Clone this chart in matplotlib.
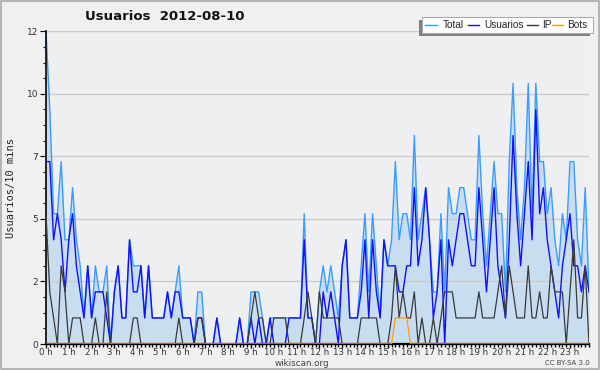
import matplotlib
matplotlib.use("Agg")
import matplotlib.pyplot as plt
from matplotlib.patches import Rectangle
from matplotlib.lines import Line2D

# 10-minute slots, 0..143
total = [12, 9, 5, 5, 7, 4, 4, 6, 4, 3, 1, 3,
         1, 3, 2, 2, 3, 0, 2, 3, 1, 1, 4, 3,
         3, 3, 1, 3, 1, 1, 1, 1, 2, 1, 2, 3,
         1, 1, 1, 0, 2, 2, 0, 0, 0, 1, 0, 0,
         0, 0, 0, 1, 0, 0, 2, 2, 2, 1, 0, 1,
         1, 1, 1, 1, 1, 1, 1, 1, 5, 1, 1, 0,
         2, 3, 2, 3, 2, 1, 3, 4, 1, 1, 1, 3,
         5, 2, 5, 3, 1, 4, 3, 4, 7, 4, 5, 5,
         4, 8, 4, 5, 6, 4, 2, 2, 5, 2, 6, 5,
         5, 6, 6, 5, 4, 4, 8, 5, 3, 5, 7, 5,
         5, 2, 7, 10, 6, 4, 6, 10, 5, 10, 7, 7,
         5, 6, 4, 3, 5, 4, 7, 7, 4, 3, 6, 2]

usuarios = [7, 7, 4, 5, 4, 2, 4, 5, 3, 2, 1, 3,
            1, 2, 2, 2, 1, 0, 2, 3, 1, 1, 4, 2,
            2, 3, 1, 3, 1, 1, 1, 1, 2, 1, 2, 2,
            1, 1, 1, 0, 1, 1, 0, 0, 0, 1, 0, 0,
            0, 0, 0, 1, 0, 0, 1, 0, 1, 0, 0, 1,
            0, 0, 0, 0, 1, 1, 1, 1, 4, 1, 1, 0,
            0, 2, 1, 2, 1, 0, 3, 4, 1, 1, 1, 2,
            4, 1, 4, 2, 1, 4, 3, 3, 3, 2, 2, 3,
            3, 6, 3, 4, 6, 4, 1, 2, 4, 0, 4, 3,
            4, 5, 5, 4, 3, 3, 6, 4, 2, 4, 6, 3,
            2, 1, 4, 8, 5, 3, 5, 7, 4, 9, 5, 6,
            4, 3, 2, 1, 3, 4, 5, 3, 3, 2, 3, 2]

ip = [5, 2, 1, 0, 3, 2, 0, 1, 1, 1, 0, 0,
      0, 1, 0, 0, 2, 0, 0, 0, 0, 0, 0, 1,
      1, 0, 0, 0, 0, 0, 0, 0, 0, 0, 0, 1,
      0, 0, 0, 0, 1, 1, 0, 0, 0, 0, 0, 0,
      0, 0, 0, 0, 0, 0, 1, 2, 1, 1, 0, 0,
      1, 1, 1, 1, 0, 0, 0, 0, 1, 2, 1, 0,
      2, 1, 1, 1, 1, 1, 0, 0, 0, 0, 0, 1,
      1, 1, 1, 1, 0, 0, 0, 1, 3, 1, 2, 1,
      1, 2, 0, 1, 0, 0, 1, 0, 1, 2, 2, 2,
      1, 1, 1, 1, 1, 1, 2, 1, 1, 1, 1, 2,
      3, 1, 3, 2, 1, 1, 1, 3, 1, 1, 2, 1,
      1, 3, 2, 2, 2, 0, 2, 4, 1, 1, 3, 0]

bots = [0] * 92 + [1, 1, 1, 1] + [0] * 48

hour_labels = ["0 h", "1 h", "2 h", "3 h", "4 h", "5 h", "6 h", "7 h",
               "8 h", "9 h", "10 h", "11 h", "12 h", "13 h", "14 h", "15 h",
               "16 h", "17 h", "18 h", "19 h", "20 h", "21 h", "22 h", "23 h"]
y_ticks = [0, 2.4, 4.8, 7.2, 9.6, 12]
y_labels = ["0", "2", "5", "7", "10", "12"]

x = list(range(len(total)))

fig = plt.figure(figsize=(6.0, 3.7), dpi=100, facecolor="#f0f0f0")
ax = fig.add_axes([46 / 600, 1 - 344 / 370, (589 - 46) / 600, (344 - 31.3) / 370])
ax.set_facecolor("#eeeff1")

ax.fill_between(x, 0, total, color="#c8ddf0", lw=0, zorder=1)
ax.plot(x, total, color="#3a9cff", lw=1.0, zorder=2)
ax.plot(x, usuarios, color="#1010ff", lw=1.0, zorder=3)
ax.plot(x, ip, color="#3a3a3a", lw=0.9, zorder=4)
ax.plot(x, bots, color="#ff9a10", lw=0.9, zorder=5)

ax.set_xlim(0, len(total) - 1)
ax.set_ylim(0, 12)

ax.set_xticks(list(range(0, 144, 6)))
ax.set_xticklabels(hour_labels)
ax.set_xticks(x, minor=True)
ax.set_yticks(y_ticks)
ax.set_yticklabels(y_labels)
ax.set_yticks([i * 0.6 for i in range(21)], minor=True)

ax.grid(axis="y", which="major", color="#cccccc", lw=1.0)
ax.set_axisbelow("line")

for s in ["top", "right"]:
    ax.spines[s].set_visible(False)
ax.spines["left"].set_linewidth(1.2)
ax.spines["bottom"].set_linewidth(1.6)

ax.tick_params(axis="x", which="major", length=3, width=1, pad=0,
               labelsize=6.2, labelcolor="#333333")
ax.tick_params(axis="x", which="minor", length=2.5, width=1)
ax.tick_params(axis="y", which="major", length=4, width=0.8, pad=1.5,
               labelsize=6.5, labelcolor="#333333")
ax.tick_params(axis="y", which="minor", length=2.5, width=0.8)

ax.set_ylabel("Usuarios/10 mins", family="DejaVu Sans Mono", fontsize=7.5,
              color="#222222", labelpad=8)

fig.text(85 / 600, 1 - 16 / 370, "Usuarios  2012-08-10", fontsize=9.5,
         fontweight="bold", ha="left", va="center", color="#111111")
fig.text(302 / 600, 1 - 363 / 370, "wikiscan.org", fontsize=6.3,
         ha="center", va="center", color="#444444")
fig.text(590 / 600, 1 - 363 / 370, "CC BY-SA 3.0", fontsize=5,
         ha="right", va="center", color="#444444")

# legend box with shadow
W, H = 600.0, 370.0
def fx(px):
    return px / W
def fy(py):
    return 1 - py / H

fig.patches.append(Rectangle((fx(419), fy(35.5)), fx(590) - fx(419), fy(20.5) - fy(35.5),
                             transform=fig.transFigure, facecolor="#808080",
                             edgecolor="none", zorder=10))
fig.patches.append(Rectangle((fx(422), fy(32.5)), fx(593) - fx(422), fy(17.5) - fy(32.5),
                             transform=fig.transFigure, facecolor="white",
                             edgecolor="#aaaaaa", lw=0.8, zorder=11))
items = [("Total", "#3a9cff", 425.5, 442.5),
         ("Usuarios", "#1010ff", 468, 484),
         ("IP", "#3a3a3a", 527, 542),
         ("Bots", "#ff9a10", 552, 567.5)]
for label, col, lx, tx in items:
    fig.lines.append(Line2D([fx(lx), fx(lx + 11)], [fy(24.5), fy(24.5)],
                            transform=fig.transFigure, color=col, lw=1.0, zorder=12))
    fig.text(fx(tx), fy(24.5), label, fontsize=7.2, family="Liberation Sans",
             ha="left", va="center", color="#222222", zorder=12)

# outer frame
fig.patches.append(Rectangle((0.001, 0.002), 0.997, 0.996, transform=fig.transFigure,
                             facecolor="none", edgecolor="#aaaaaa", lw=1.2, zorder=20))

fig.savefig("out.png", dpi=100, facecolor=fig.get_facecolor())
